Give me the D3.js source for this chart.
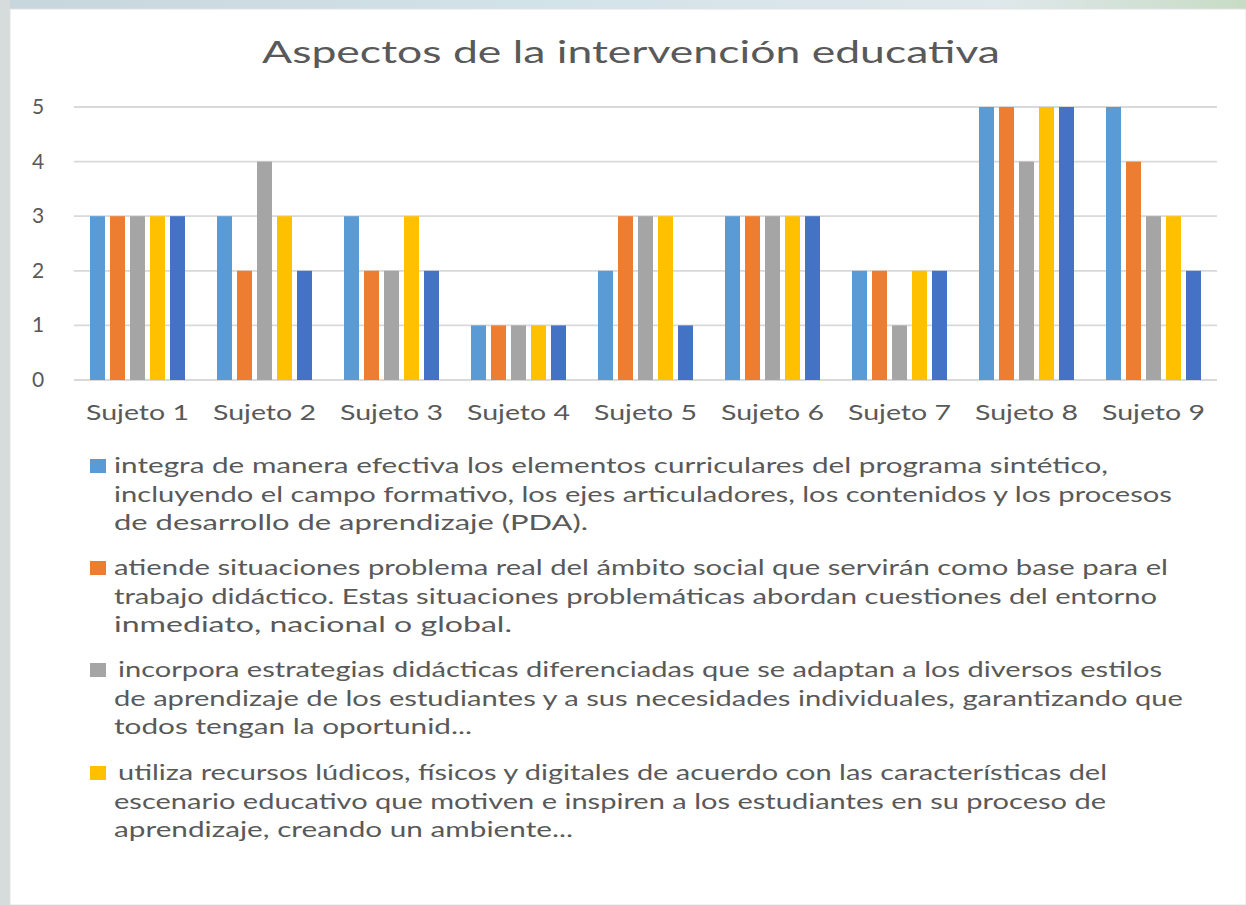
<!DOCTYPE html>
<html>
<head>
<meta charset="utf-8">
<script src="https://cdn.jsdelivr.net/npm/d3@7"></script>
<style>
  html, body { margin: 0; padding: 0; background: #fff; }
  svg { display: block; }
  text { font-family: Lato, "Open Sans", sans-serif; fill: #595959; }
</style>
</head>
<body>
<svg id="chart" width="1246" height="905"></svg>
<script>
// --- data ---
const subjects = ['Sujeto 1', 'Sujeto 2', 'Sujeto 3', 'Sujeto 4', 'Sujeto 5', 'Sujeto 6', 'Sujeto 7', 'Sujeto 8', 'Sujeto 9'];
const seriesA = [3, 3, 3, 1, 2, 3, 2, 5, 5];
const seriesB = [3, 2, 2, 1, 3, 3, 2, 5, 4];
const seriesC = [3, 4, 2, 1, 3, 3, 1, 4, 3];
const seriesD = [3, 3, 3, 1, 3, 3, 2, 5, 3];
const seriesE = [3, 2, 2, 1, 1, 3, 2, 5, 2];
const yTicks = [0, 1, 2, 3, 4, 5];
const colors = ['#5b9bd5', '#ed7d31', '#a5a5a5', '#ffc000', '#4472c4'];
const title = 'Aspectos de la intervención educativa';

// legend lines as they wrap in the picture (5th series is cut off there)
const legendEntries = [
  ['integra de manera efectiva los elementos curriculares del programa sintético,',
   'incluyendo el campo formativo, los ejes articuladores, los contenidos y los procesos',
   'de desarrollo de aprendizaje (PDA).'],
  ['atiende situaciones problema real del ámbito social que servirán como base para el',
   'trabajo didáctico. Estas situaciones problemáticas abordan cuestiones del entorno',
   'inmediato, nacional o global.'],
  [' incorpora estrategias didácticas diferenciadas que se adaptan a los diversos estilos',
   'de aprendizaje de los estudiantes y a sus necesidades individuales, garantizando que',
   'todos tengan la oportunid...'],
  [' utiliza recursos lúdicos, físicos y digitales de acuerdo con las características del',
   'escenario educativo que motiven e inspiren a los estudiantes en su proceso de',
   'aprendizaje, creando un ambiente...']
];
// measured line widths in the reference (px)
const legendWidths = [
  [994, 1058, 474],
  [1054, 1043, 398],
  [1048, 1069, 358],
  [993, 992, 459]
];

const allSeries = [seriesA, seriesB, seriesC, seriesD, seriesE];

const svg = d3.select('#chart');

// backdrop (slide behind the chart)
const defs = svg.append('defs');
const bg = defs.append('linearGradient').attr('id', 'bg').attr('x1', 0).attr('x2', 1).attr('y1', 0).attr('y2', 0);
bg.append('stop').attr('offset', '0%').attr('stop-color', '#c6d6dc');
bg.append('stop').attr('offset', '45%').attr('stop-color', '#d3e3ea');
bg.append('stop').attr('offset', '80%').attr('stop-color', '#dfe8ec');
bg.append('stop').attr('offset', '100%').attr('stop-color', '#c7dcc4');
svg.append('rect').attr('width', 1246).attr('height', 905).attr('fill', 'url(#bg)');
svg.append('rect').attr('x', 0).attr('y', 0).attr('width', 10).attr('height', 905).attr('fill', '#d6dcdc');
svg.append('rect').attr('x', 10).attr('y', 9).attr('width', 1236).attr('height', 896)
  .attr('fill', '#fff').attr('stroke', '#e2e2e2').attr('stroke-width', 1);

// scales
const x0 = d3.scaleBand().domain(subjects).range([74, 1217]);
const x1 = d3.scaleBand().domain(d3.range(5)).range([16, 16 + 95]).paddingInner(0.25);
const y = d3.scaleLinear().domain([0, 5]).range([380, 107]);

// title
svg.append('text')
  .attr('x', 631).attr('y', 63)
  .attr('text-anchor', 'middle')
  .attr('font-size', 31)
  .attr('textLength', 738).attr('lengthAdjust', 'spacingAndGlyphs')
  .text(title);

// gridlines
svg.append('g').selectAll('line').data(yTicks).join('line')
  .attr('x1', 74).attr('x2', 1217)
  .attr('y1', d => y(d)).attr('y2', d => y(d))
  .attr('stroke', '#d9d9d9').attr('stroke-width', 1.8);

// y axis labels
svg.append('g').selectAll('text').data(yTicks).join('text')
  .attr('x', 38).attr('y', d => y(d) + 7)
  .attr('text-anchor', 'middle')
  .attr('font-size', 21)
  .text(d => d);

// bars
const groups = svg.append('g').selectAll('g').data(subjects).join('g')
  .attr('transform', d => `translate(${x0(d)},0)`);
groups.selectAll('rect')
  .data((d, i) => allSeries.map((s, k) => ({ k, v: s[i] })))
  .join('rect')
  .attr('x', d => x1(d.k))
  .attr('width', x1.bandwidth())
  .attr('y', d => y(d.v))
  .attr('height', d => y(0) - y(d.v))
  .attr('fill', d => colors[d.k]);

// x axis labels
svg.append('g').selectAll('text').data(subjects).join('text')
  .attr('x', d => x0(d) + x0.bandwidth() / 2)
  .attr('y', 420)
  .attr('text-anchor', 'middle')
  .attr('font-size', 21)
  .attr('textLength', 103).attr('lengthAdjust', 'spacingAndGlyphs')
  .text(d => d);

// legend
const legendTop = [466, 568, 670, 773];
const lineH = 28.7;
legendEntries.forEach((lines, i) => {
  const g = svg.append('g');
  g.append('rect')
    .attr('x', 90).attr('y', legendTop[i] - 7)
    .attr('width', 16).attr('height', 14)
    .attr('fill', colors[i]);
  lines.forEach((t, j) => {
    const lead = t.startsWith(' ') ? 4 : 0;
    g.append('text')
      .attr('x', 114 + lead)
      .attr('y', legendTop[i] + j * lineH + 7)
      .attr('font-size', 22)
      .attr('textLength', legendWidths[i][j] - lead)
      .attr('lengthAdjust', 'spacingAndGlyphs')
      .text(t.trim());
  });
});
</script>
</body>
</html>
